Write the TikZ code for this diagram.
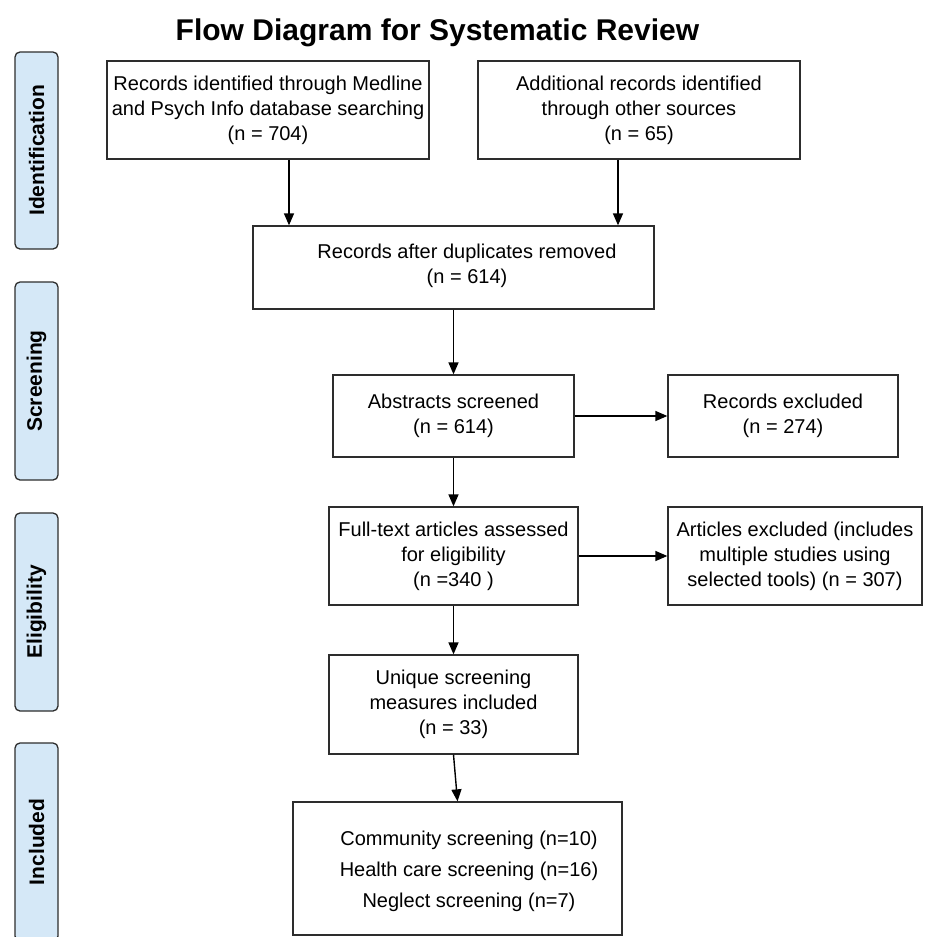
\documentclass[tikz,border=0pt]{standalone}
\usepackage{fontspec}
\setmainfont{Liberation Sans}
\usetikzlibrary{arrows.meta}
\definecolor{sidefill}{RGB}{213,232,247}
\definecolor{edgegray}{RGB}{45,45,45}
\begin{document}
\begin{tikzpicture}[x=1pt,y=-1pt,
  box/.style={draw=edgegray, line width=1.3pt, rectangle, inner sep=0pt, align=center,
              font=\fontsize{20}{25}\selectfont},
  boxtext/.style={inner sep=0pt, align=center, font=\fontsize{20}{25}\selectfont},
  side/.style={draw=edgegray, fill=sidefill, line width=1.3pt, rounded corners=5pt,
               minimum width=43pt, inner sep=0pt, rectangle},
  sidetext/.style={rotate=90, inner sep=0pt, font=\fontsize{21}{25}\selectfont\bfseries},
  arr/.style={draw=black, line width=1.4pt, -{Triangle[length=12pt,width=10pt]}}]
\clip (0,0) rectangle (933,937);
\fill[white] (0,0) rectangle (933,937);

% title
\node[inner sep=0pt, anchor=base, font=\fontsize{30}{34}\selectfont\bfseries] (title) at (437.5,40)
  {Flow Diagram for Systematic Review};

% side phase boxes
\node[side, minimum height=197pt] (s1) at (36.5,150.5) {};
\node[sidetext] (s1t) at (s1.center) {Identification};
\node[side, minimum height=198pt] (s2) at (36.5,381) {};
\node[sidetext] (s2t) at (s2.center) {Screening};
\node[side, minimum height=198pt] (s3) at (36.5,612) {};
\node[sidetext] (s3t) at (s3.center) {Eligibility};
\node[side, minimum height=198pt] (s4) at (36.5,842) {};
\node[sidetext] (s4t) at (s4.center) {Included};

% main boxes
\node[box, minimum width=322pt, minimum height=98pt] (b1) at (268,110)
  {Records identified through Medline\\and Psych Info database searching\\(n = 704)};
\node[box, minimum width=322pt, minimum height=98pt] (b2) at (639,110)
  {Additional records identified\\through other sources\\(n = 65)};
\node[box, minimum width=401pt, minimum height=83pt] (b3) at (453.5,267.5) {};
\node[boxtext] (b3t) at (467,265.5) {Records after duplicates removed\\(n = 614)};
\node[box, minimum width=241pt, minimum height=82pt] (b4) at (453.5,416)
  {Abstracts screened\\(n = 614)};
\node[box, minimum width=230pt, minimum height=82pt] (b5) at (783,416)
  {Records excluded\\(n = 274)};
\node[box, minimum width=249pt, minimum height=98pt] (b6) at (453.5,556)
  {Full-text articles assessed\\for eligibility\\(n =340 )};
\node[box, minimum width=254pt, minimum height=98pt] (b7) at (795,556)
  {Articles excluded (includes\\multiple studies using\\selected tools) (n = 307)};
\node[box, minimum width=249pt, minimum height=99pt] (b8) at (453.5,704.5)
  {Unique screening\\measures included\\(n = 33)};
\node[box, minimum width=329pt, minimum height=133pt] (b9) at (457.5,868.5) {};
\node[boxtext, font=\fontsize{20}{31}\selectfont] (b9t) at (469,871)
  {Community screening (n=10)\\Health care screening (n=16)\\Neglect screening (n=7)};

% connectors
\draw[arr] ([xshift=21pt]b1.south) -- ([xshift=21pt]b1.south |- b3.north);
\draw[arr] ([xshift=-21pt]b2.south) -- ([xshift=-21pt]b2.south |- b3.north);
\draw[arr] (b3.south) -- (b4.north);
\draw[arr] (b4.east) -- (b5.west);
\draw[arr] (b4.south) -- (b6.north);
\draw[arr] (b6.east) -- (b7.west);
\draw[arr] (b6.south) -- (b8.north);
\draw[arr] (b8.south) -- (b9.north);
\end{tikzpicture}
\end{document}
